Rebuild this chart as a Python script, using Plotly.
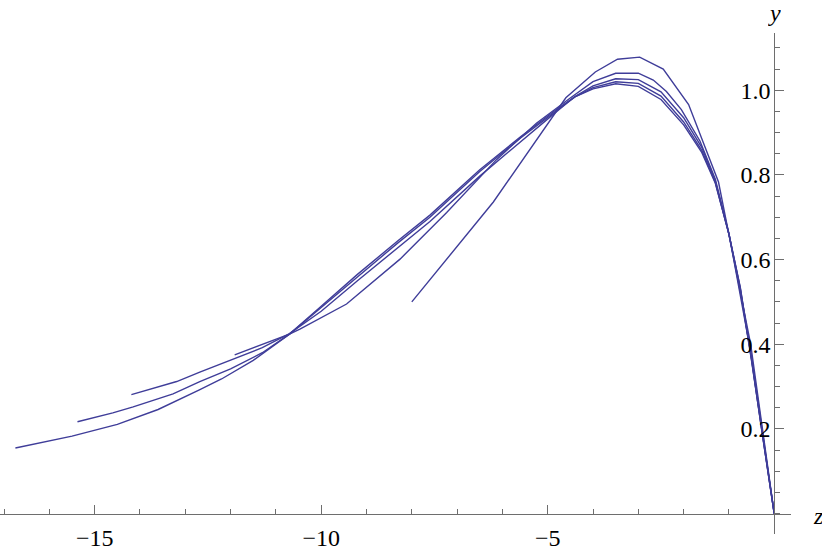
import plotly.graph_objects as go

# ---- data ----
A_z = [-16.75, -15.5, -14.5, -13.6, -12.7, -12.2, -11.5, -10.7, -10.0, -9.2, -8.3, -7.6, -6.5, -5.6,
       -4.8, -4.4, -4.0, -3.5, -3.0, -2.5, -2.0, -1.6, -1.3, -1.0, -0.75, -0.5, -0.25, 0.0]
A_y = [0.155, 0.183, 0.211, 0.246, 0.292, 0.318, 0.362, 0.424, 0.490, 0.565, 0.645, 0.705, 0.812, 0.890,
       0.955, 0.984, 1.003, 1.015, 1.009, 0.978, 0.918, 0.853, 0.780, 0.660, 0.535, 0.365, 0.180, 0.0]

B_z = [-15.38, -14.6, -14.15, -13.27, -12.68, -12.0, -11.3, -10.7, -10.0, -9.2, -8.3, -7.6, -6.5, -5.6,
       -4.8, -4.4, -4.0, -3.5, -3.0, -2.5, -2.0, -1.6, -1.3, -1.0, -0.75, -0.5, -0.25, 0.0]
B_y = [0.217, 0.238, 0.252, 0.283, 0.312, 0.342, 0.380, 0.424, 0.487, 0.560, 0.640, 0.700, 0.808, 0.887,
       0.953, 0.984, 1.006, 1.020, 1.016, 0.986, 0.925, 0.858, 0.782, 0.660, 0.533, 0.363, 0.178, 0.0]

C_z = [-14.19, -13.19, -12.68, -12.0, -11.3, -10.7, -10.0, -9.2, -8.3, -7.6, -6.5, -5.6, -4.8, -4.4,
       -4.0, -3.5, -3.0, -2.5, -2.0, -1.6, -1.3, -1.0, -0.75, -0.5, -0.25, 0.0]
C_y = [0.281, 0.312, 0.334, 0.362, 0.392, 0.425, 0.478, 0.550, 0.630, 0.690, 0.797, 0.879, 0.950, 0.985,
       1.010, 1.027, 1.025, 0.996, 0.935, 0.865, 0.785, 0.660, 0.530, 0.360, 0.176, 0.0]

D_z = [-11.91, -10.7, -10.47, -9.44, -8.26, -7.23, -6.13, -5.25, -4.51, -4.0, -3.5, -3.0, -2.67, -2.38,
       -2.05, -1.64, -1.3, -1.0, -0.5, 0.0]
D_y = [0.375, 0.424, 0.436, 0.495, 0.601, 0.711, 0.836, 0.922, 0.981, 1.020, 1.040, 1.040, 1.024, 0.997,
       0.954, 0.880, 0.790, 0.662, 0.370, 0.0]

E_z = [-8.0, -6.2, -4.6, -3.95, -3.46, -2.97, -2.45, -1.89, -1.23, -0.52, 0.0]
E_y = [0.500, 0.736, 0.982, 1.043, 1.073, 1.078, 1.050, 0.966, 0.783, 0.400, 0.0]

curves = [(A_z, A_y), (B_z, B_y), (C_z, C_y), (D_z, D_y), (E_z, E_y)]

x_tick_vals = [-15, -10, -5]
x_tick_text = ["\u221215", "\u221210", "\u22125"]
y_tick_vals = [0.2, 0.4, 0.6, 0.8, 1.0]
y_tick_text = ["0.2", "0.4", "0.6", "0.8", "1.0"]

# ---- layout constants ----
XMIN, XMAX = -17.09, 0.37
YMIN, YMAX = -0.048, 1.135
LINE_COLOR = "#3f3d99"
AXIS_COLOR = "#6e6e6e"
FONT = "'Liberation Serif', 'Times New Roman', 'DejaVu Serif', serif"
FSIZE = 24

fig = go.Figure()
for zs, ys in curves:
    fig.add_trace(go.Scatter(x=zs, y=ys, mode="lines",
                             line=dict(color=LINE_COLOR, width=1.4),
                             showlegend=False, hoverinfo="skip"))

fig.update_layout(
    width=822, height=551,
    margin=dict(l=0, r=31, t=33, b=15),
    paper_bgcolor="white", plot_bgcolor="white",
    font=dict(family=FONT, size=FSIZE, color="black"),
    xaxis=dict(
        range=[XMIN, XMAX], domain=[0, 1],
        anchor="free", position=(0 - YMIN) / (YMAX - YMIN),
        showgrid=False, zeroline=False,
        showline=True, linecolor=AXIS_COLOR, linewidth=1,
        tickmode="array", tickvals=x_tick_vals, ticktext=x_tick_text,
        ticks="inside", ticklen=9, tickwidth=1, tickcolor=AXIS_COLOR,
        ticklabelstandoff=3,
        minor=dict(dtick=1, tick0=0, ticks="inside", ticklen=5, tickwidth=1, tickcolor=AXIS_COLOR),
        tickfont=dict(family=FONT, size=FSIZE, color="black"),
    ),
    yaxis=dict(
        range=[YMIN, YMAX], domain=[0, 1],
        anchor="free", position=(0 - XMIN) / (XMAX - XMIN), side="left",
        showgrid=False, zeroline=False,
        showline=True, linecolor=AXIS_COLOR, linewidth=1,
        tickmode="array", tickvals=y_tick_vals, ticktext=y_tick_text,
        ticks="inside", ticklen=9, tickwidth=1, tickcolor=AXIS_COLOR,
        ticklabelstandoff=-1,
        minor=dict(dtick=0.05, tick0=0, ticks="inside", ticklen=5, tickwidth=1, tickcolor=AXIS_COLOR),
        tickfont=dict(family=FONT, size=FSIZE, color="black"),
    ),
    annotations=[
        dict(text="<i>y</i>", x=0, y=1, xref="x", yref="paper", xanchor="center", yanchor="middle",
             yshift=20, height=26, showarrow=False, font=dict(family=FONT, size=FSIZE, color="black")),
        dict(text="<i>z</i>", x=1, y=0, xref="paper", yref="y", xanchor="left", yanchor="middle",
             xshift=20, yshift=-2, showarrow=False, font=dict(family=FONT, size=FSIZE, color="black")),
    ],
)

fig.write_html("out.html", config={"displayModeBar": False},
               post_script="document.body.style.margin='0';document.body.style.padding='0';")
